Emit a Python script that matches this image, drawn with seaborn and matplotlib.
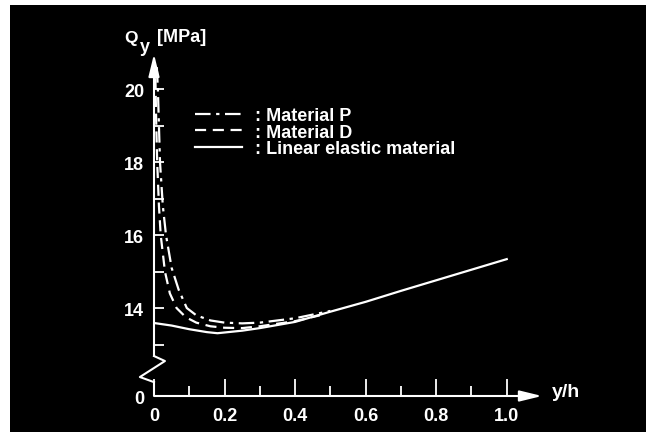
import numpy as np
import pandas as pd
import matplotlib
matplotlib.use("Agg")
import matplotlib.pyplot as plt
from matplotlib.patches import Rectangle
import seaborn as sns

# ---- data ----
x_p = [0.008, 0.011, 0.017, 0.025, 0.034, 0.05, 0.07, 0.093, 0.12, 0.16, 0.2, 0.25, 0.3, 0.4, 0.5]
y_p = [20.6, 20.0, 18.0, 16.8, 16.0, 15.1, 14.5, 14.0, 13.8, 13.66, 13.6, 13.58, 13.6, 13.72, 13.92]

x_d = [0.004, 0.006, 0.009, 0.014, 0.019, 0.031, 0.045, 0.064, 0.09, 0.12, 0.16, 0.2, 0.25, 0.3, 0.4, 0.47]
y_d = [20.3, 19.2, 18.0, 16.8, 16.0, 15.0, 14.4, 14.0, 13.75, 13.6, 13.5, 13.46, 13.45, 13.5, 13.64, 13.8]

x_l = [0.0, 0.05, 0.1, 0.15, 0.18, 0.25, 0.3, 0.4, 0.5, 0.6, 0.7, 0.8, 0.9, 1.0]
y_l = [13.59, 13.52, 13.42, 13.34, 13.31, 13.38, 13.45, 13.62, 13.9, 14.17, 14.47, 14.76, 15.05, 15.34]

series_names = ["Material P", "Material D", "Linear elastic material"]
legend_labels = [": Material P", ": Material D", ": Linear elastic material"]
x_ticks = [0, 0.2, 0.4, 0.6, 0.8, 1.0]
x_ticklabels = ["0", "0.2", "0.4", "0.6", "0.8", "1.0"]
y_ticks = [14, 16, 18, 20]
y_ticklabels = ["14", "16", "18", "20"]

df = pd.concat([
    pd.DataFrame({"x": x_p, "y": y_p, "material": series_names[0]}),
    pd.DataFrame({"x": x_d, "y": y_d, "material": series_names[1]}),
    pd.DataFrame({"x": x_l, "y": y_l, "material": series_names[2]}),
], ignore_index=True)

# ---- figure ----
W, H = 646, 435
fig = plt.figure(figsize=(W / 100, H / 100), dpi=100, facecolor="white")
fig.add_artist(Rectangle((10 / W, 2 / H), 636 / W, 427 / H, transform=fig.transFigure,
                         facecolor="black", edgecolor="none", zorder=-10))

FONT = "Liberation Sans"
Y0 = 11.59  # position of the broken-axis zero
ax = fig.add_axes([154 / W, (H - 397) / H, 388 / W, 342 / H])
ax.set_facecolor("none")

sns.lineplot(data=df, x="x", y="y", style="material", style_order=series_names,
             dashes={"Material P": (7, 2.5, 1.5, 2.5), "Material D": (5, 3), "Linear elastic material": ""},
             color="white", linewidth=1.6, estimator=None, sort=False, legend=False, ax=ax)

ax.set_xlim(0, 1.1)
ax.set_ylim(Y0, 20.96)
for s in ax.spines.values():
    s.set_visible(False)
ax.set_xlabel("")
ax.set_ylabel("")

# axes with arrows and break
lw_ax = 1.5
ax.plot([0, 0], [Y0, 11.97], color="white", lw=lw_ax, clip_on=False, solid_capstyle="butt")
ax.plot([0, -0.040, 0.031, 0], [11.97, 12.11, 12.548, 12.685], color="white", lw=lw_ax, clip_on=False)
ax.annotate("", xy=(0, 20.96), xytext=(0, 12.685), xycoords="data",
            arrowprops=dict(arrowstyle="-|>,head_length=0.9,head_width=0.22", color="white",
                            lw=lw_ax, shrinkA=0, shrinkB=0, mutation_scale=15), annotation_clip=False)
ax.annotate("", xy=(1.1, Y0), xytext=(0, Y0), xycoords="data",
            arrowprops=dict(arrowstyle="-|>,head_length=0.9,head_width=0.22", color="white",
                            lw=lw_ax, shrinkA=0, shrinkB=0, mutation_scale=15), annotation_clip=False)

# ticks
ax.set_xticks(x_ticks, x_ticklabels)
ax.set_xticks([0.1, 0.3, 0.5, 0.7, 0.9], minor=True)
ax.set_yticks([Y0] + y_ticks, ["0"] + y_ticklabels)
ax.set_yticks([13, 15, 17, 19], minor=True)
ax.tick_params(axis="x", which="major", direction="in", length=12, width=1.3, color="white",
               labelcolor="white", labelsize=13, pad=8)
ax.tick_params(axis="x", which="minor", direction="in", length=7, width=1.3, color="white")
ax.tick_params(axis="y", which="both", direction="in", length=7, width=1.3, color="white",
               labelcolor="white", labelsize=13, pad=7)
for lab in ax.get_xticklabels() + ax.get_yticklabels():
    lab.set_fontfamily(FONT)
    lab.set_fontweight("bold")

# axis titles
fig.text(124 / W, 1 - 38 / H, "Q", color="white", fontsize=12.5, fontweight="bold",
         family=FONT, ha="left", va="center")
fig.text(140 / W, 1 - 47 / H, "y", color="white", fontsize=13, fontweight="bold",
         family=FONT, ha="left", va="center")
fig.text(157 / W, 1 - 38 / H, "[MPa]", color="white", fontsize=13, fontweight="bold",
         family=FONT, ha="left", va="center")
fig.text(566 / W, 1 - 393 / H, "y/h", color="white", fontsize=14, fontweight="bold",
         family=FONT, ha="center", va="center")

# legend
handles = ax.get_lines()[:3]
leg = ax.legend(handles, legend_labels, loc="upper left",
                bbox_to_anchor=(195 / W, 1 - 108 / H), bbox_transform=fig.transFigure,
                frameon=False, borderpad=0, borderaxespad=0, handlelength=2.6,
                handletextpad=0.75, labelspacing=-0.02,
                prop={"family": FONT, "weight": "bold", "size": 13})
for t in leg.get_texts():
    t.set_color("white")

fig.savefig("out.png", dpi=100, facecolor="white")
